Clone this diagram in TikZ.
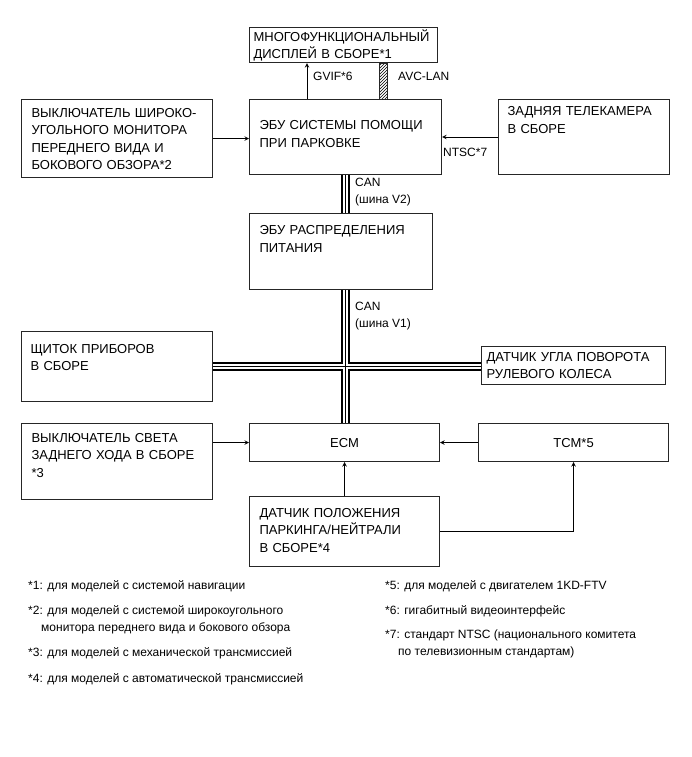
\documentclass[tikz,border=0pt]{standalone}
\usepackage{fontspec}
\setmainfont{Liberation Sans}
\usepackage{tikz}
\usetikzlibrary{arrows, patterns}

\begin{document}
\begin{tikzpicture}[
    x=1pt, y=-1pt,
    unit/.style={rectangle, draw=black!85, line width=1.1pt, anchor=north west, align=left, inner xsep=10pt, inner ysep=0pt, font=\fontsize{13}{17.5}\selectfont},
    smallunit/.style={rectangle, draw=black!85, line width=1.1pt, anchor=north west, inner sep=0pt, font=\fontsize{13}{17.5}\selectfont},
    tag/.style={anchor=west, inner sep=0pt, align=left, font=\fontsize{12}{17}\selectfont},
    note/.style={anchor=north west, inner sep=0pt, align=left, font=\fontsize{12}{17}\selectfont},
    arrow/.style={->, >=stealth, line width=1pt},
    busa/.style={line width=9pt, black},
    busb/.style={line width=5.6pt, white},
    busc/.style={line width=1.8pt, black}
]
\useasboundingbox (0,0) rectangle (691,757);

% blocks
\node (disp) [unit, inner xsep=4pt, text width=180pt, text height=13.5pt, text depth=21.5pt] at (249,27) {МНОГОФУНКЦИОНАЛЬНЫЙ\\ДИСПЛЕЙ В СБОРЕ*1};
\node (pecu) [unit, text width=172pt, text height=30pt, text depth=45pt] at (249,99) {ЭБУ СИСТЕМЫ ПОМОЩИ\\ПРИ ПАРКОВКЕ};
\node (wsw) [unit, text width=171pt, text height=17.5pt, text depth=60.5pt] at (21,99) {ВЫКЛЮЧАТЕЛЬ ШИРОКО-\\УГОЛЬНОГО МОНИТОРА\\ПЕРЕДНЕГО ВИДА И\\БОКОВОГО ОБЗОРА*2};
\node (cam) [unit, inner xsep=9pt, text width=153pt, text height=16pt, text depth=59pt] at (498,99) {ЗАДНЯЯ ТЕЛЕКАМЕРА\\В СБОРЕ};
\node (pwr) [unit, text width=163pt, text height=21pt, text depth=55pt] at (249,213) {ЭБУ РАСПРЕДЕЛЕНИЯ\\ПИТАНИЯ};
\node (icl) [unit, inner xsep=9pt, text width=173pt, text height=21.5pt, text depth=48.5pt] at (21,331) {ЩИТОК ПРИБОРОВ\\В СБОРЕ};
\node (sas) [unit, inner xsep=5pt, text width=174pt, text height=14.5pt, text depth=23.5pt] at (481,346) {ДАТЧИК УГЛА ПОВОРОТА\\РУЛЕВОГО КОЛЕСА};
\node (rsw) [unit, text width=171pt, text height=18.5pt, text depth=57.5pt] at (21,423) {ВЫКЛЮЧАТЕЛЬ СВЕТА\\ЗАДНЕГО ХОДА В СБОРЕ\\{}*3};
\node (ecm) [smallunit, minimum width=190pt, minimum height=38pt] at (249,423) {ECM};
\node (tcm) [smallunit, minimum width=190pt, minimum height=38pt] at (478,423) {TCM*5};
\node (pns) [unit, text width=170pt, text height=20.5pt, text depth=49.5pt] at (249,496) {ДАТЧИК ПОЛОЖЕНИЯ\\ПАРКИНГА/НЕЙТРАЛИ\\В СБОРЕ*4};

% CAN buses
\foreach \s in {busa, busb, busc} {
    \draw [\s] (pecu.south) -- (pecu.south |- pwr.north);
    \draw [\s] (pecu.south |- pwr.south) -- (pecu.south |- ecm.north);
    \draw [\s] (icl.east) -- (icl.east -| sas.west);
}

% links
\draw [arrow] ([xshift=58pt]pecu.north west) -- ([xshift=58pt]disp.south west);
\draw [black!85, line width=0.8pt, pattern=north east lines] ([xshift=130pt]disp.south west) rectangle ([xshift=138pt]pecu.north west);
\draw [arrow] (wsw.east) -- (wsw.east -| pecu.west);
\draw [arrow] (cam.west) -- (cam.west -| pecu.east);
\draw [arrow] (ecm.west -| rsw.east) -- (ecm.west);
\draw [arrow] (tcm.west) -- (ecm.east);
\draw [arrow] (pns.north) -- (ecm.south);
\draw [arrow] (pns.east) -| (tcm.south);

% labels
\node (gvif) [tag] at (313,76) {GVIF*6};
\node (avc) [tag] at (398,76) {AVC-LAN};
\node (ntsc) [tag] at (443,152) {NTSC*7};
\node (canb) [tag, anchor=north west] at (355,178) {CAN\\(шина V2)};
\node (cana) [tag, anchor=north west] at (355,302) {CAN\\(шина V1)};

% footnotes
\node (f1) [note] at (28,580) {*1: для моделей с системой навигации};
\node (f2) [note] at (28,605) {*2: для моделей с системой широкоугольного\\\hspace*{13pt}монитора переднего вида и бокового обзора};
\node (f3) [note] at (28,647) {*3: для моделей с механической трансмиссией};
\node (f4) [note] at (28,673) {*4: для моделей с автоматической трансмиссией};
\node (f5) [note] at (385,580) {*5: для моделей с двигателем 1KD-FTV};
\node (f6) [note] at (385,605) {*6: гигабитный видеоинтерфейс};
\node (f7) [note] at (385,630) {*7: стандарт NTSC (национального комитета\\\hspace*{13pt}по телевизионным стандартам)};

\end{tikzpicture}
\end{document}
